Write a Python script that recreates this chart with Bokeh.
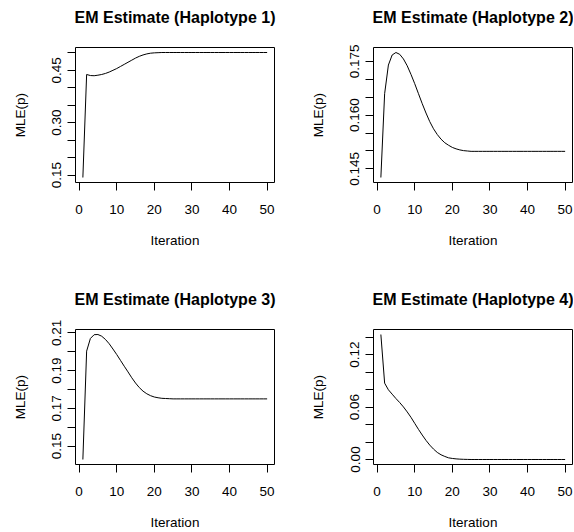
from bokeh.plotting import figure
from bokeh.layouts import column, row
from bokeh.models import Range1d, FixedTicker, LinearAxis
from bokeh.embed import file_html
from bokeh.resources import INLINE

iterations = list(range(1, 51))

hap1 = [0.143, 0.438, 0.435, 0.4345, 0.436, 0.438, 0.441, 0.445, 0.450, 0.455,
        0.461, 0.467, 0.473, 0.479, 0.485, 0.490, 0.494, 0.497, 0.499, 0.500,
        0.5005, 0.501, 0.501, 0.501, 0.501, 0.501, 0.501, 0.501, 0.501, 0.501,
        0.501, 0.501, 0.501, 0.501, 0.501, 0.501, 0.501, 0.501, 0.501, 0.501,
        0.501, 0.501, 0.501, 0.501, 0.501, 0.501, 0.501, 0.501, 0.501, 0.501]

hap2 = [0.1426, 0.1660, 0.1740, 0.1768, 0.1775, 0.1770, 0.1757, 0.1738, 0.1714, 0.1688,
        0.1660, 0.1632, 0.1606, 0.1582, 0.1562, 0.1546, 0.1533, 0.1523, 0.1516, 0.1510,
        0.1506, 0.1503, 0.1501, 0.1500, 0.1499, 0.1499, 0.1499, 0.1499, 0.1499, 0.1499,
        0.1499, 0.1499, 0.1499, 0.1499, 0.1499, 0.1499, 0.1499, 0.1499, 0.1499, 0.1499,
        0.1499, 0.1499, 0.1499, 0.1499, 0.1499, 0.1499, 0.1499, 0.1499, 0.1499, 0.1499]

hap3 = [0.1429, 0.2003, 0.2070, 0.2090, 0.2091, 0.2082, 0.2065, 0.2042, 0.2014, 0.1985,
        0.1954, 0.1923, 0.1893, 0.1862, 0.1834, 0.1810, 0.1791, 0.1777, 0.1767, 0.1760,
        0.1756, 0.1753, 0.1752, 0.1751, 0.1750, 0.1750, 0.1750, 0.1750, 0.1750, 0.1750,
        0.1750, 0.1750, 0.1750, 0.1750, 0.1750, 0.1750, 0.1750, 0.1750, 0.1750, 0.1750,
        0.1750, 0.1750, 0.1750, 0.1750, 0.1750, 0.1750, 0.1750, 0.1750, 0.1750, 0.1750]

hap4 = [0.1431, 0.0874, 0.0798, 0.0748, 0.0698, 0.0652, 0.0602, 0.0545, 0.0483, 0.0414,
        0.0345, 0.0280, 0.0219, 0.0165, 0.0119, 0.0081, 0.0054, 0.0035, 0.0019, 0.0012,
        0.0007, 0.0004, 0.0002, 0.0001, 0.0, 0.0, 0.0, 0.0, 0.0, 0.0,
        0.0, 0.0, 0.0, 0.0, 0.0, 0.0, 0.0, 0.0, 0.0, 0.0,
        0.0, 0.0, 0.0, 0.0, 0.0, 0.0, 0.0, 0.0, 0.0, 0.0]

titles = ["EM Estimate (Haplotype 1)", "EM Estimate (Haplotype 2)",
          "EM Estimate (Haplotype 3)", "EM Estimate (Haplotype 4)"]
x_label = "Iteration"
y_label = "MLE(p)"

x_ticks = [0, 10, 20, 30, 40, 50]

y_major = [[0.15, 0.30, 0.45],
           [0.145, 0.160, 0.175],
           [0.15, 0.17, 0.19, 0.21],
           [0.00, 0.06, 0.12]]
y_labels = [["0.15", "0.30", "0.45"],
            ["0.145", "0.160", "0.175"],
            ["0.15", "0.17", "0.19", "0.21"],
            ["0.00", "0.06", "0.12"]]
y_minor = [[0.20, 0.25, 0.35, 0.40, 0.50],
           [0.150, 0.155, 0.165, 0.170],
           [0.16, 0.18, 0.20],
           [0.02, 0.04, 0.08, 0.10, 0.14]]

series = [hap1, hap2, hap3, hap4]

FONT = "Liberation Sans"
FS = "13.5px"


def pad_range(vals):
    lo, hi = min(vals), max(vals)
    d = (hi - lo) * 0.04
    return lo - d, hi + d


def make_panel(i, left, right, top, bottom):
    ys = series[i]
    x0, x1 = pad_range(iterations)
    y0, y1 = pad_range(ys)
    p = figure(frame_width=199, frame_height=135,
               x_range=Range1d(x0, x1), y_range=Range1d(y0, y1),
               output_backend="svg", toolbar_location=None, tools="",
               min_border_left=left, min_border_right=right,
               min_border_top=top, min_border_bottom=bottom)
    p.line(iterations, ys, line_color="black", line_width=1)

    p.grid.visible = False
    p.background_fill_color = "white"
    p.border_fill_color = "white"
    p.outline_line_color = "black"
    p.outline_line_width = 1
    p.outline_line_alpha = 1

    xa = p.below[0]
    ya = p.left[0]
    for ax in (xa, ya):
        ax.axis_line_color = None
        ax.major_tick_in = 0
        ax.major_tick_out = 8
        ax.minor_tick_in = 0
        ax.minor_tick_out = 8
        ax.major_tick_line_color = "black"
        ax.minor_tick_line_color = "black"
        ax.major_label_text_font = FONT
        ax.major_label_text_font_size = FS
        ax.major_label_text_color = "black"
        ax.axis_label_text_font = FONT
        ax.axis_label_text_font_size = FS
        ax.axis_label_text_font_style = "normal"
        ax.axis_label_text_color = "black"

    xa.ticker = FixedTicker(ticks=x_ticks, minor_ticks=[])
    xa.axis_label = x_label
    xa.major_label_standoff = 14
    xa.axis_label_standoff = 16

    ya.ticker = FixedTicker(ticks=y_major[i], minor_ticks=y_minor[i])
    ya.major_label_overrides = {t: s for t, s in zip(y_major[i], y_labels[i])}
    ya.major_label_orientation = "vertical"
    ya.axis_label = y_label
    ya.major_label_standoff = 6
    ya.axis_label_standoff = 22

    # title drawn as the label of a tick-less axis above the frame
    tax = LinearAxis(ticker=FixedTicker(ticks=[], minor_ticks=[]),
                     axis_label=titles[i], axis_line_color=None,
                     major_tick_out=0, major_tick_in=0,
                     minor_tick_out=0, minor_tick_in=0,
                     major_label_standoff=0, axis_label_standoff=22,
                     axis_label_text_font=FONT,
                     axis_label_text_font_size="16px",
                     axis_label_text_font_style="bold",
                     axis_label_text_color="black")
    p.add_layout(tax, "above")
    return p


p1 = make_panel(0, 75, 24, 47, 99)
p2 = make_panel(1, 75, 1, 47, 99)
p3 = make_panel(2, 75, 24, 48, 64)
p4 = make_panel(3, 75, 1, 48, 64)

layout = column(row(p1, p2), row(p3, p4))

open("out.html", "w").write(file_html(layout, INLINE))
